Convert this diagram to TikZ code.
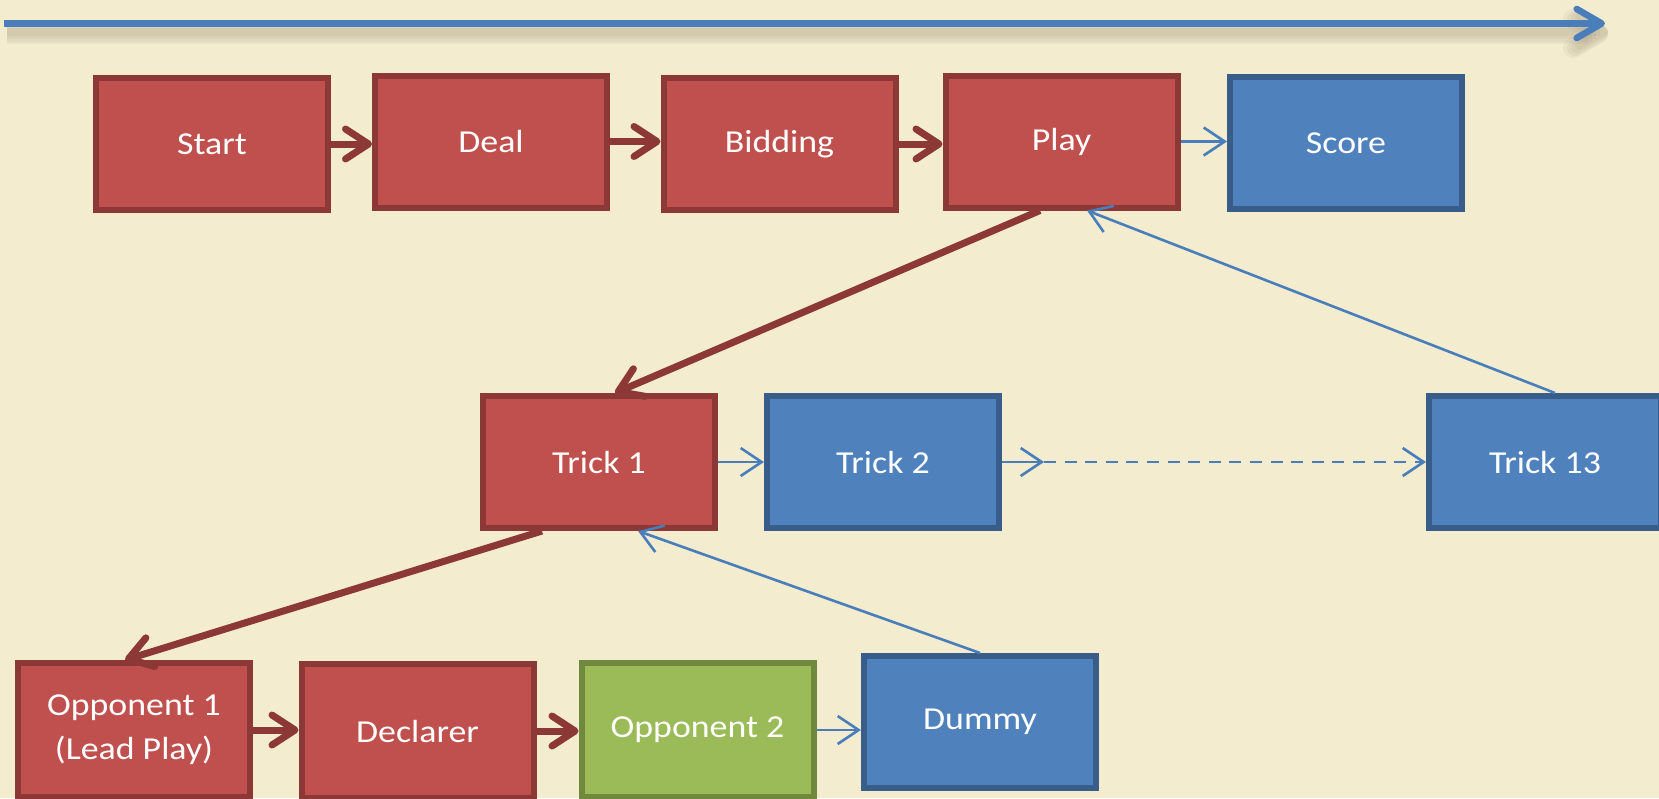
\documentclass[tikz,border=0pt]{standalone}
\usepackage{fontspec}
\setmainfont{Carlito}[FakeStretch=1.12]
\usetikzlibrary{arrows.meta}
\definecolor{bg}{RGB}{243,236,207}
\definecolor{rfill}{RGB}{192,80,77}
\definecolor{rdraw}{RGB}{140,56,54}
\definecolor{bfill}{RGB}{79,129,189}
\definecolor{bdraw}{RGB}{56,93,138}
\definecolor{gfill}{RGB}{155,187,89}
\definecolor{gdraw}{RGB}{113,137,63}
\definecolor{lineblue}{RGB}{74,126,187}
\begin{document}
\begin{tikzpicture}[x=0.5pt,y=-0.5pt,
  box/.style={draw, line width=3pt, minimum width=116pt, minimum height=66pt,
    text=white, font=\fontsize{16}{22}\selectfont, align=center, inner sep=0pt},
  tallbox/.style={minimum height=67pt},
  redbox/.style={box, fill=rfill, draw=rdraw},
  bluebox/.style={box, fill=bfill, draw=bdraw},
  greenbox/.style={box, fill=gfill, draw=gdraw},
  redarr/.style={draw=rdraw, line width=3.5pt, -{Straight Barb[length=11.5pt,width=15pt,round]}},
  bluearr/.style={draw=lineblue, line width=1.3pt, -{Straight Barb[length=10.5pt,width=14pt]}},
  toparr/.style={draw=lineblue, line width=3.3pt, -{Straight Barb[length=12.5pt,width=14.5pt,round]}},
  shadowarr/.style={draw=black!70!brown, opacity=0.045, -{Straight Barb[length=12.5pt,width=14.5pt,round]}}
]
\useasboundingbox (0,0) rectangle (1659,798);
\clip (0,0) rectangle (1659,798);
\fill[bg] (0,0) rectangle (1659,798);

% timeline arrow with soft shadow
\coordinate (tl) at (4,23.5);
\coordinate (tr) at (1605,23.5);
\foreach \w/\d in {10/5, 8/5, 6/4.5, 4/4}{
  \draw[shadowarr, line width=\w pt] ([xshift=1.5pt,yshift=-\d pt]tl) -- ([xshift=1.5pt,yshift=-\d pt]tr);
}
\draw[toparr] (tl) -- (tr);

% top row
\node[redbox] (start) at (212,144) {Start};
\node[redbox] (deal) at (491,141.5) {Deal};
\node[redbox] (bidding) at (779.5,144) {Bidding};
\node[redbox] (play) at (1061.5,141.5) {Play};
\node[bluebox] (score) at (1346,143) {Score};

% middle row
\node[redbox] (trick1) at (599,462) {Trick 1};
\node[bluebox] (trick2) at (883,462) {Trick 2};
\node[bluebox] (trick13) at (1545,462) {Trick 13};

% bottom row
\node[redbox, tallbox] (opp1) at (134,730) {Opponent 1\\(Lead Play)};
\node[redbox, tallbox] (declarer) at (417.5,731) {Declarer};
\node[greenbox, tallbox] (opp2) at (697.5,730) {Opponent 2};
\node[bluebox] (dummy) at (980,722) {Dummy};

% top row connectors
\draw[redarr] (start.east) -- (start.east -| deal.west);
\draw[redarr] (deal.east) -- (deal.east -| bidding.west);
\draw[redarr] (bidding.east) -- (bidding.east -| play.west);
\draw[bluearr] (play.east) -- (play.east -| score.west);

% play <-> tricks
\draw[redarr] ([xshift=-10.75pt]play.south) -- ([xshift=8pt]trick1.north);
\draw[bluearr] ([xshift=5pt]trick13.north) -- ([xshift=12.75pt]play.south);

% middle row connectors
\draw[bluearr] (trick1.east) -- (trick1.east -| trick2.west);
\coordinate (mid) at (1044,462);
\draw[bluearr] (trick2.east) -- (mid);
\draw[bluearr, dash pattern=on 6pt off 4.3pt] (mid) -- (mid -| trick13.west);

% trick1 <-> players
\draw[redarr] ([xshift=-28.5pt]trick1.south) -- ([xshift=-4.5pt]opp1.north);
\draw[bluearr] (dummy.north) -- ([xshift=19.5pt]trick1.south);

% bottom row connectors
\draw[redarr] (opp1.east) -- (opp1.east -| declarer.west);
\draw[redarr] (declarer.east) -- (declarer.east -| opp2.west);
\draw[bluearr] (opp2.east) -- (opp2.east -| dummy.west);
\end{tikzpicture}
\end{document}
